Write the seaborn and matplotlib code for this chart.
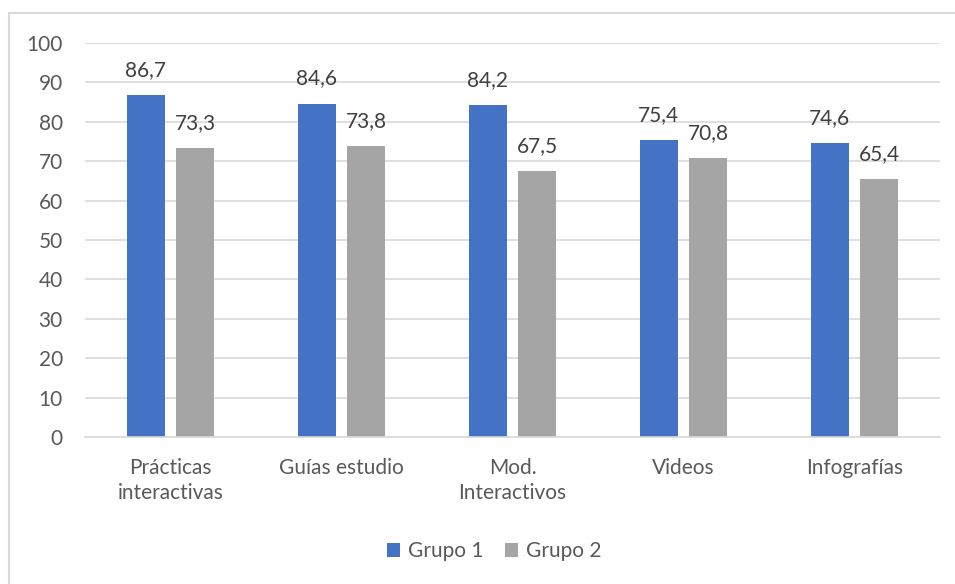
import matplotlib
matplotlib.use("Agg")
import matplotlib.pyplot as plt
import seaborn as sns
import pandas as pd
from matplotlib.lines import Line2D
from matplotlib.patches import Patch

categories = ["Prácticas\ninteractivas", "Guías estudio", "Mod.\nInteractivos", "Videos", "Infografías"]
grupo1 = [86.7, 84.6, 84.2, 75.4, 74.6]
grupo2 = [73.3, 73.8, 67.5, 70.8, 65.4]
series = ["Grupo 1", "Grupo 2"]
colors = ["#4472C4", "#A5A5A5"]

df = pd.DataFrame({
    "cat": categories * 2,
    "val": grupo1 + grupo2,
    "grupo": [series[0]] * len(categories) + [series[1]] * len(categories),
})

sns.set_theme(style="white")
plt.rcParams["font.family"] = ["Lato", "DejaVu Sans"]

fig = plt.figure(figsize=(9.55, 5.84), dpi=100)
ax = fig.add_axes([85 / 955, 1 - 437 / 584, (940 - 85) / 955, (437 - 43) / 584])

sns.barplot(data=df, x="cat", y="val", hue="grupo", palette=colors,
            width=0.575, gap=0.22, ax=ax, legend=False, saturation=1, linewidth=0)

ax.set_xlim(-0.5, 4.5)
ax.set_ylim(0, 100)
ax.set_yticks(range(0, 101, 10))
ax.yaxis.grid(True, color="#D9D9D9", linewidth=1.2)
ax.set_axisbelow(True)
for s in ["top", "right", "left"]:
    ax.spines[s].set_visible(False)
ax.spines["bottom"].set_color("#D9D9D9")
ax.spines["bottom"].set_linewidth(1.2)
ax.set_xlabel("")
ax.set_ylabel("")
ax.tick_params(axis="both", length=0, labelsize=15, colors="#595959")
ax.tick_params(axis="y", pad=16)
ax.tick_params(axis="x", pad=15)
for lbl in ax.get_yticklabels() + ax.get_xticklabels():
    lbl.set_color("#595959")
    lbl.set_linespacing(1.35)

for cont in ax.containers:
    ax.bar_label(cont, labels=[f"{v:.1f}".replace(".", ",") for v in cont.datavalues],
                 fontsize=15, color="#404040", padding=11)

# legend
handles = [Patch(facecolor=c, edgecolor="none") for c in colors]
fig.legend(handles, series, loc="center", bbox_to_anchor=(494 / 955, 1 - 551 / 584),
           ncol=2, frameon=False, fontsize=15, handlelength=0.65, handleheight=0.65,
           handletextpad=0.35, columnspacing=1.05, labelcolor="#595959")

# chart border (left and top)
fig.add_artist(Line2D([9 / 955, 9 / 955], [0, 1 - 13 / 584], transform=fig.transFigure,
                      color="#D9D9D9", linewidth=1.5))
fig.add_artist(Line2D([9 / 955, 1], [1 - 13 / 584, 1 - 13 / 584], transform=fig.transFigure,
                      color="#D9D9D9", linewidth=1.5))

fig.savefig("out.png", dpi=100)
